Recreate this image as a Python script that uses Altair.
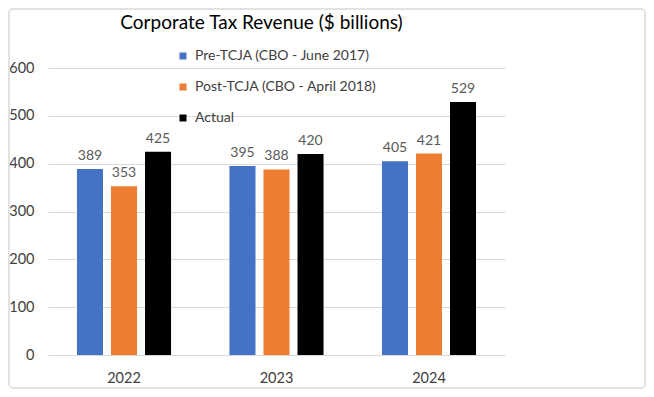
import altair as alt
import pandas as pd

years = ["2022", "2023", "2024"]
series = ["Pre-TCJA (CBO - June 2017)", "Post-TCJA (CBO - April 2018)", "Actual"]
pre_tcja = [389, 395, 405]
post_tcja = [353, 388, 421]
actual = [425, 420, 529]
colors = ["#4472C4", "#ED7D31", "#000000"]

rows = []
for i, y in enumerate(years):
    for s, vals in zip(series, [pre_tcja, post_tcja, actual]):
        rows.append({"year": y, "series": s, "value": vals[i]})
df = pd.DataFrame(rows)

FONT = "Lato"
W, H = 457, 287
PL, PT, PR, PB = 40, 60, 141, 34

x = alt.X("year:N", title=None,
          scale=alt.Scale(paddingInner=0.383, paddingOuter=0.19),
          axis=alt.Axis(labelAngle=0, labelFontSize=14.5, labelColor="#404040",
                        labelFont=FONT, labelPadding=16, ticks=False, domain=True,
                        domainColor="#d9d9d9", grid=False))
xo = alt.XOffset("series:N", sort=series,
                 scale=alt.Scale(paddingInner=0.235, paddingOuter=0))

base = alt.Chart(df)

bars = base.mark_bar().encode(
    x=x,
    xOffset=xo,
    y=alt.Y("value:Q", title=None,
            scale=alt.Scale(domain=[0, 600]),
            axis=alt.Axis(values=[0, 100, 200, 300, 400, 500, 600], labelFontSize=14.5,
                          labelColor="#404040", labelFont=FONT, labelPadding=14,
                          ticks=False, domain=False, gridColor="#d9d9d9")),
    color=alt.Color("series:N", sort=series,
                    scale=alt.Scale(domain=series, range=colors),
                    legend=alt.Legend(title=None, orient="none", legendX=128, legendY=-19,
                                      symbolType="square", symbolSize=49,
                                      symbolStrokeWidth=0, labelFontSize=14,
                                      labelFont=FONT, labelColor="#404040",
                                      rowPadding=17, labelOffset=5, labelLimit=400)),
)

labels = base.mark_text(baseline="bottom", dy=-6, fontSize=14, font=FONT,
                        color="#595959").encode(
    x=x, xOffset=xo, y="value:Q", text="value:Q")

border = alt.Chart(pd.DataFrame({"a": [0]})).mark_rect(
    fill=None, stroke="#d9d9d9", strokeWidth=1.5, cornerRadius=4).encode(
    x=alt.value(-PL + 1), x2=alt.value(W + PR - 1),
    y=alt.value(-PT + 1), y2=alt.value(H + PB - 1))

chart = alt.layer(border, bars, labels).properties(
    width=W, height=H,
    autosize=alt.AutoSizeParams(type="none"),
    padding={"left": PL, "top": PT, "right": PR, "bottom": PB},
    title=alt.Title("Corporate Tax Revenue ($ billions)", fontSize=19,
                    font=FONT, fontWeight="normal", color="#000000",
                    anchor="middle", dx=-15, offset=-25),
).configure_view(stroke=None).configure_axis(gridWidth=1)

chart.save("out.html", embed_options={"renderer": "svg", "actions": False})
